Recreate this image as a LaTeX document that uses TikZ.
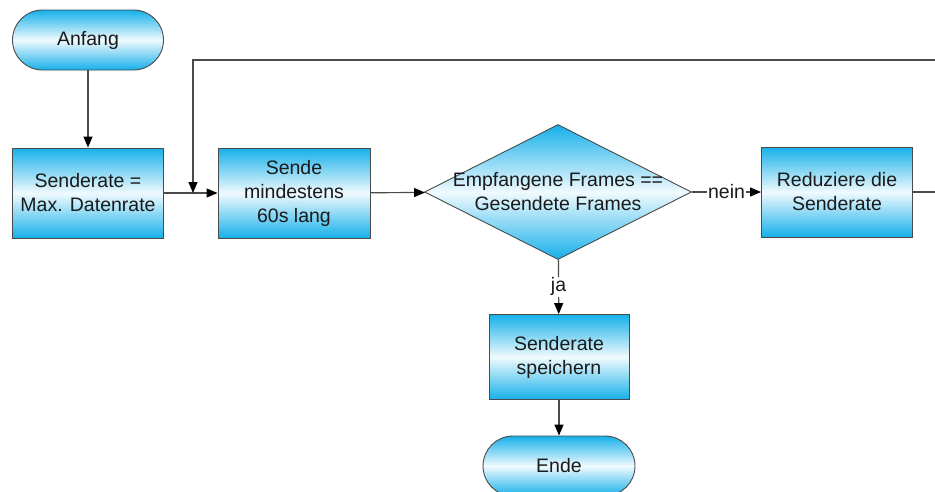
\documentclass[tikz,border=0pt]{standalone}
\usepackage{fontspec}
\setmainfont{Liberation Sans}
\usetikzlibrary{shapes.geometric,arrows.meta}

\definecolor{flowcyan}{HTML}{16B0EA}
\definecolor{flowpale}{HTML}{F0FAFE}
\definecolor{flowline}{HTML}{4A4A4A}
\definecolor{flowtext}{HTML}{1A1A1A}

\tikzset{
  fill flow/.style={top color=flowcyan,bottom color=flowcyan,middle color=flowpale},
  flowbox/.style={rectangle,draw=flowline,line width=0.9pt,fill flow,
    text=flowtext,align=center,font=\fontsize{19.5}{24}\selectfont,inner sep=0pt},
  termbox/.style={flowbox,rounded corners=30pt},
  decbox/.style={diamond,draw=flowline,line width=0.9pt,fill flow,inner sep=0pt},
  conn/.style={draw=flowline,line width=1.2pt},
  arr/.style={conn,-{Triangle[length=11pt,width=9pt,color=black]}},
  edgelabel/.style={fill=white,text=flowtext,inner sep=1pt,font=\fontsize{19.5}{24}\selectfont}
}

\begin{document}
\begin{tikzpicture}[x=1pt,y=-1pt]
\useasboundingbox (0,0) rectangle (935,491);

\node[termbox,minimum width=151pt,minimum height=60pt] (anfang) at (88,40) {Anfang};
\node[flowbox,minimum width=151pt,minimum height=90pt] (init) at (88,193) {Senderate =\\Max. Datenrate};
\node[flowbox,minimum width=152pt,minimum height=90pt] (send) at (294,193) {Sende\\mindestens\\60s lang};
\node[decbox,minimum width=267pt,minimum height=135pt] (check) at (558,192) {};
\node[text=flowtext,align=center,font=\fontsize{19.5}{24}\selectfont] at (check) {Empfangene Frames ==\\Gesendete Frames};
\node[flowbox,minimum width=151pt,minimum height=90pt] (reduce) at (837,192) {Reduziere die\\Senderate};
\node[flowbox,minimum width=140pt,minimum height=85pt] (save) at (559,357) {Senderate\\speichern};
\node[termbox,minimum width=152pt,minimum height=60pt] (ende) at (559,466) {Ende};

\coordinate (outR) at (935,192);
\coordinate (topR) at (935,60);
\coordinate (topL) at (193,60);
\coordinate (merge) at (193,193);

\draw[arr] (anfang) -- (init);
\draw[arr] (init) -- (send);
\draw[arr] (send) -- (check);
\draw[arr] (check) -- node[edgelabel] {nein} (reduce);
\draw[conn] (reduce) -- (outR);
\draw[arr] (topR) -- (topL) -- (merge);
\draw[arr] (check) -- node[edgelabel] {ja} (save);
\draw[arr] (save) -- (ende);
\end{tikzpicture}
\end{document}
